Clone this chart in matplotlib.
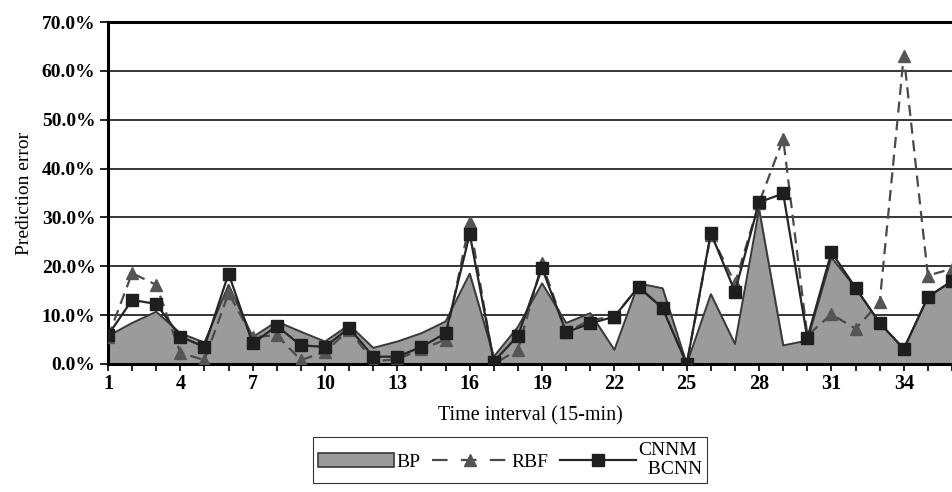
import matplotlib.pyplot as plt
from matplotlib.patches import Patch
from matplotlib.lines import Line2D

plt.rcParams['font.family'] = ['Liberation Serif', 'DejaVu Serif']

# Data (prediction error in %)
intervals = list(range(1, 37))
bp = [5.7, 8.4, 10.7, 6.3, 4.4, 16.2, 5.5, 8.7, 6.6, 4.6, 8.0, 3.3,
      4.6, 6.3, 8.7, 18.5, 1.5, 7.6, 16.5, 8.4, 10.4, 2.9, 16.5, 15.5,
      0.0, 14.3, 4.1, 31.7, 3.8, 4.8, 21.8, 15.6, 8.4, 3.1, 13.7, 17.0]
rbf = [5.5, 18.6, 16.2, 2.3, 0.8, 14.5, 5.5, 5.9, 0.8, 2.5, 7.0, 0.5,
       1.0, 3.0, 5.0, 29.1, 0.0, 2.9, 20.6, 6.5, 9.0, 9.7, 15.8, 11.4,
       0.0, 26.5, 16.5, 33.0, 46.1, 5.8, 10.2, 7.2, 12.6, 63.1, 18.1, 19.5]
cnnm = [5.9, 13.1, 12.3, 5.6, 3.5, 18.5, 4.2, 7.8, 3.8, 3.5, 7.4, 1.5,
        1.5, 3.5, 6.3, 26.6, 0.5, 5.8, 19.6, 6.5, 8.3, 9.7, 15.8, 11.4,
        0.0, 26.8, 14.8, 33.1, 34.9, 5.3, 22.9, 15.6, 8.4, 3.1, 13.7, 17.0]
yticks = [0, 10, 20, 30, 40, 50, 60, 70]
xlabels = list(range(1, 35, 3))

fig = plt.figure(figsize=(9.52, 4.92), dpi=100)
ax = fig.add_axes([108 / 952, 128 / 492, 844 / 952, 342 / 492])

ax.fill_between(intervals, bp, 0, color='#9b9b9b', zorder=1)
ax.plot(intervals, bp, color='#3a3a3a', lw=1.4, zorder=2)
ax.plot(intervals, rbf, color='#4a4a4a', lw=1.6, ls=(0, (5, 3)),
        marker='^', ms=8.5, mfc='#555555', mec='#555555', zorder=3)
ax.plot(intervals, cnnm, color='#262626', lw=1.6,
        marker='s', ms=8.5, mfc='#1e1e1e', mec='#1e1e1e', zorder=4)

ax.set_xlim(1, 1 + 844 / 24.36)
ax.set_ylim(0, 70)
ax.set_yticks(yticks)
ax.set_yticklabels([f'{v:.1f}%' for v in yticks], fontsize=14, fontweight='bold')
ax.set_xticks(intervals, minor=True)
ax.set_xticks(xlabels)
ax.set_xticklabels([str(v) for v in xlabels], fontsize=14.5, fontweight='bold')
ax.tick_params(axis='x', which='both', direction='out', length=5, width=1.2, pad=2)
ax.tick_params(axis='y', direction='out', length=6, width=1.2, pad=3)
ax.grid(axis='y', color='black', lw=1.1, zorder=0)
ax.set_axisbelow(True)

ax.spines['right'].set_visible(False)
for s in ['left', 'bottom', 'top']:
    ax.spines[s].set_linewidth(2.2)

ax.set_ylabel('Prediction error', fontsize=14, labelpad=6)
ax.set_xlabel('Time interval (15-min)', fontsize=14.5, labelpad=9)

handles = [
    Patch(facecolor='#9b9b9b', edgecolor='#3a3a3a', lw=1.2),
    Line2D([], [], color='#4a4a4a', lw=1.6, ls=(0, (7, 6)), marker='^',
           ms=8.5, mfc='#555555', mec='#555555'),
    Line2D([], [], color='#262626', lw=1.6, marker='s', ms=8.5,
           mfc='#1e1e1e', mec='#1e1e1e'),
]
leg = fig.legend(handles, ['BP', 'RBF', 'CNNM\n  BCNN'], ncol=3,
                 loc='upper left', bbox_to_anchor=(313 / 952, 1 - 437 / 492),
                 borderaxespad=0, fontsize=14, frameon=True, fancybox=False,
                 handlelength=3.9, columnspacing=0.6, handletextpad=0.15,
                 borderpad=0.25, labelspacing=0.0)
leg.get_frame().set_edgecolor('black')
leg.get_frame().set_linewidth(0.8)

fig.savefig('out.png', dpi=100)
